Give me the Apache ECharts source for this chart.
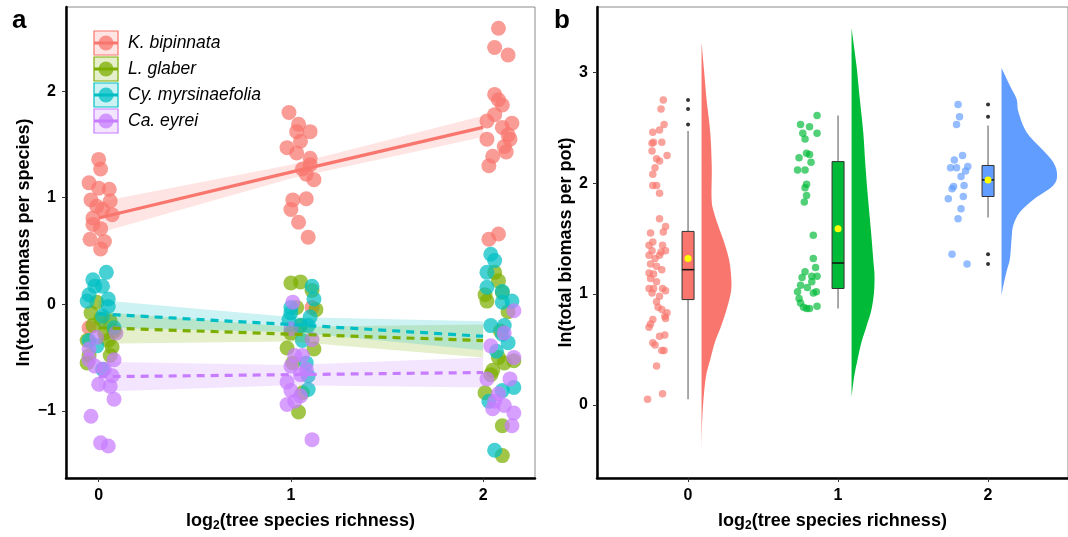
<!DOCTYPE html>
<html>
<head>
<meta charset="utf-8">
<script src="https://cdn.jsdelivr.net/npm/echarts@6/dist/echarts.min.js"></script>
<style>
html, body { margin: 0; padding: 0; background: #fff; }
#main { width: 1068px; height: 537px; }
</style>
</head>
<body>
<div id="main"></div>
<script>
// ---- panel a : biomass per species ----
var species = ['K. bipinnata', 'L. glaber', 'Cy. myrsinaefolia', 'Ca. eyrei'];
var speciesColors = ['#F8766D', '#7CAE00', '#00BFC4', '#C77CFF'];

var kPoints = [
  [0.0, 1.36], [0.01, 1.27], [-0.05, 1.14], [0.0, 1.09], [0.055, 1.08], [-0.04, 0.98], [0.06, 0.97], [-0.01, 0.92],
  [0.02, 0.89], [0.07, 0.84], [-0.03, 0.81], [-0.03, 0.75], [0.01, 0.71], [-0.045, 0.61], [0.03, 0.59], [0.01, 0.52], [-0.05, -0.22],
  [0.99, 1.80], [1.04, 1.69], [1.10, 1.62], [1.03, 1.62], [1.05, 1.53], [0.98, 1.47], [1.03, 1.42], [1.10, 1.37], [1.10, 1.31],
  [1.06, 1.27], [1.08, 1.22], [1.12, 1.17], [1.01, 0.98], [1.08, 0.99], [1.00, 0.89], [1.04, 0.77], [1.09, 0.63], [1.11, -0.03],
  [2.08, 2.59], [2.06, 2.41], [2.13, 2.34], [2.06, 1.97], [2.08, 1.92], [2.10, 1.87], [2.06, 1.78], [2.02, 1.72], [2.15, 1.70],
  [2.10, 1.66], [2.13, 1.59], [2.02, 1.55], [2.14, 1.55], [2.11, 1.48], [2.12, 1.43], [2.05, 1.39], [2.03, 1.30], [2.03, 0.61], [2.08, 0.66]
];
var lPoints = [
  [-0.01, 0.02], [-0.04, -0.08], [0.01, -0.14], [0.06, -0.16], [-0.03, -0.20], [0.03, -0.27], [-0.06, -0.34], [0.05, -0.34],
  [0.07, -0.40], [0.06, -0.48], [-0.05, -0.48], [0.08, -0.25], [-0.06, -0.55],
  [1.00, 0.20], [1.05, 0.21], [1.11, 0.13], [1.03, -0.03], [1.13, -0.05], [1.00, -0.27], [1.12, -0.42], [0.98, -0.41],
  [1.01, -0.55], [1.04, -1.01], [1.06, -0.83], [1.05, -0.20],
  [2.06, 0.30], [2.08, 0.22], [2.01, 0.09], [2.02, 0.03], [2.10, 0.11], [2.13, -0.07], [2.09, -0.25], [2.08, -0.50],
  [2.16, -0.53], [2.11, -0.55], [2.05, -0.62], [2.01, -0.83], [2.10, -1.14], [2.10, -1.42], [2.04, -0.66]
];
var cyPoints = [
  [0.04, 0.30], [-0.03, 0.23], [-0.02, 0.17], [0.02, 0.17], [-0.05, 0.09], [-0.06, 0.03], [0.05, 0.05], [0.05, -0.02],
  [0.02, -0.11], [0.08, -0.22], [-0.05, -0.34], [-0.01, -0.39], [0.02, -0.61],
  [1.11, 0.17], [1.12, 0.05], [1.00, -0.03], [1.00, -0.08], [1.05, -0.20], [1.09, -0.20], [1.06, -0.34], [1.08, -0.55],
  [1.09, -0.67], [1.09, -0.80], [1.10, -0.12], [0.99, -0.14],
  [2.04, 0.47], [2.06, 0.41], [2.02, 0.30], [2.02, 0.16], [2.10, 0.12], [2.10, 0.02], [2.15, 0.03], [2.04, -0.20],
  [2.11, -0.20], [2.10, -0.28], [2.13, -0.36], [2.07, -0.44], [2.16, -0.78], [2.03, -0.91], [2.10, -0.81], [2.06, -1.37]
];
var caPoints = [
  [-0.01, -0.31], [-0.05, -0.42], [0.09, -0.27], [-0.05, -0.52], [-0.02, -0.58], [0.08, -0.52], [0.03, -0.61], [0.07, -0.67],
  [0.06, -0.77], [0.0, -0.75], [0.08, -0.89], [-0.04, -1.05], [0.01, -1.30], [0.05, -1.33],
  [1.01, 0.02], [1.00, -0.23], [1.11, -0.33], [1.02, -0.48], [1.06, -0.48], [1.00, -0.58], [1.08, -0.61], [1.05, -0.66],
  [0.98, -0.73], [1.00, -0.81], [1.05, -0.86], [0.98, -0.94], [1.02, -0.91], [1.11, -1.27],
  [2.16, -0.06], [2.11, -0.27], [2.04, -0.39], [2.16, -0.50], [2.14, -0.70], [2.02, -0.70], [2.08, -0.84], [2.06, -0.91],
  [2.11, -0.95], [2.16, -1.02], [2.15, -1.14], [2.05, -0.98]
];

// fitted lines and confidence bands, read at x = 0, 1, 2
var fitX = [0, 1, 2];
var kFit = [0.81, 1.24, 1.66],    kLow = [0.67, 1.18, 1.57],    kHigh = [0.96, 1.31, 1.77];
var lFit = [-0.22, -0.28, -0.34], lLow = [-0.37, -0.35, -0.50], lHigh = [-0.07, -0.21, -0.19];
var cyFit = [-0.09, -0.19, -0.30], cyLow = [-0.22, -0.26, -0.43], cyHigh = [0.04, -0.12, -0.16];
var caFit = [-0.68, -0.66, -0.64], caLow = [-0.82, -0.76, -0.78], caHigh = [-0.54, -0.57, -0.50];

// ---- panel b : biomass per pot ----
var groupX = [0, 1, 2];
var groupColors = ['#F8766D', '#00BA38', '#619CFF'];

var pot0 = [
  [-0.165, 2.75], [-0.18, 2.67], [-0.16, 2.53], [-0.235, 2.46], [-0.19, 2.48], [-0.24, 2.36], [-0.23, 2.37], [-0.175, 2.37],
  [-0.24, 2.29], [-0.21, 2.22], [-0.14, 2.25], [-0.19, 2.20], [-0.22, 2.14], [-0.235, 2.08], [-0.235, 1.98], [-0.21, 1.98], [-0.19, 1.91],
  [-0.19, 1.68], [-0.15, 1.61], [-0.25, 1.55], [-0.165, 1.56], [-0.235, 1.47], [-0.26, 1.44], [-0.17, 1.44], [-0.24, 1.39],
  [-0.18, 1.38], [-0.15, 1.39], [-0.26, 1.35], [-0.22, 1.32], [-0.19, 1.35], [-0.25, 1.27], [-0.21, 1.25], [-0.175, 1.22],
  [-0.26, 1.19], [-0.23, 1.18], [-0.25, 1.14], [-0.21, 1.11], [-0.26, 1.05], [-0.23, 1.05], [-0.17, 1.05], [-0.15, 1.03],
  [-0.24, 1.01], [-0.19, 0.98], [-0.21, 0.93], [-0.20, 0.88], [-0.175, 0.86], [-0.14, 0.83], [-0.15, 0.78], [-0.155, 0.80],
  [-0.235, 0.77], [-0.25, 0.73], [-0.26, 0.70], [-0.155, 0.63], [-0.19, 0.62], [-0.235, 0.56], [-0.22, 0.54], [-0.175, 0.49],
  [-0.16, 0.49], [-0.21, 0.35], [-0.27, 0.05], [-0.17, 0.10]
];
var pot1 = [
  [0.86, 2.61], [0.75, 2.53], [0.81, 2.51], [0.765, 2.45], [0.86, 2.45], [0.78, 2.40], [0.79, 2.27], [0.81, 2.26],
  [0.74, 2.23], [0.82, 2.19], [0.73, 2.12], [0.78, 2.12], [0.79, 1.99], [0.78, 1.96], [0.79, 1.89], [0.775, 1.83],
  [0.835, 1.53], [0.835, 1.32], [0.85, 1.24], [0.78, 1.20], [0.76, 1.15], [0.825, 1.16], [0.86, 1.16], [0.825, 1.11],
  [0.75, 1.08], [0.795, 1.06], [0.73, 1.02], [0.855, 1.02], [0.835, 1.01], [0.74, 0.96], [0.75, 0.92], [0.86, 0.89],
  [0.77, 0.88], [0.81, 0.87], [0.79, 0.87]
];
var pot2 = [
  [1.80, 2.71], [1.81, 2.60], [1.79, 2.53], [1.83, 2.25], [1.775, 2.21], [1.75, 2.14], [1.79, 2.14], [1.865, 2.15],
  [1.85, 2.11], [1.82, 2.06], [1.84, 1.98], [1.77, 1.97], [1.76, 1.95], [1.735, 1.86], [1.835, 1.88], [1.82, 1.77],
  [1.80, 1.68], [1.76, 1.36], [1.86, 1.27]
];

var boxLow = [0.05, 0.87, 1.69];
var boxQ1 = [0.95, 1.05, 1.88];
var boxMed = [1.22, 1.28, 2.03];
var boxQ3 = [1.565, 2.195, 2.16];
var boxHigh = [2.47, 2.61, 2.52];
var boxMean = [1.32, 1.59, 2.03];
var outliers = [[0, 2.75], [0, 2.67], [0, 2.53], [2, 2.71], [2, 2.60], [2, 1.36], [2, 1.27]];

// half violins: y positions and widths (x units)
var violin0Y = [-0.47, -0.19, 0.05, 0.26, 0.41, 0.57, 0.71, 0.86, 1.02, 1.14, 1.30, 1.45, 1.61, 1.75, 1.86, 2.15, 2.46, 2.76, 3.0, 3.27];
var violin0W = [0, 0.003, 0.013, 0.03, 0.058, 0.09, 0.13, 0.167, 0.196, 0.198, 0.185, 0.155, 0.113, 0.08, 0.067, 0.068, 0.058, 0.033, 0.018, 0];
var violin1Y = [0.07, 0.26, 0.41, 0.57, 0.71, 0.86, 1.02, 1.17, 1.26, 1.56, 1.86, 2.15, 2.46, 2.76, 3.06, 3.40];
var violin1W = [0, 0.018, 0.04, 0.067, 0.1, 0.133, 0.15, 0.153, 0.148, 0.13, 0.11, 0.093, 0.078, 0.055, 0.033, 0];
var violin2Y = [0.97, 1.03, 1.20, 1.32, 1.50, 1.62, 1.74, 1.86, 1.98, 2.08, 2.19, 2.31, 2.46, 2.64, 2.76, 2.88, 3.04];
var violin2W = [0, 0.005, 0.033, 0.056, 0.067, 0.078, 0.123, 0.22, 0.345, 0.37, 0.345, 0.267, 0.167, 0.113, 0.10, 0.056, 0];

var boxWidth = 0.08;
var violinOffset = 0.09;

var FONT = 'Liberation Sans, Arial, sans-serif';

function rgba(hex, a) {
  var n = parseInt(hex.slice(1), 16);
  return 'rgba(' + (n >> 16) + ',' + ((n >> 8) & 255) + ',' + (n & 255) + ',' + a + ')';
}
function minusFmt(v) { return v < 0 ? '\u2212' + Math.abs(v) : String(v); }

function bandSeries(low, high, color) {
  return {
    type: 'custom', xAxisIndex: 0, yAxisIndex: 0, silent: true, z: 3,
    data: [[fitX[0], low[0]]],
    renderItem: function (params, api) {
      var pts = [];
      for (var i = 0; i < fitX.length; i++) pts.push(api.coord([fitX[i], high[i]]));
      for (var j = fitX.length - 1; j >= 0; j--) pts.push(api.coord([fitX[j], low[j]]));
      return { type: 'polygon', shape: { points: pts }, style: { fill: rgba(color, 0.2) } };
    }
  };
}
function fitSeries(fit, color, dashed) {
  return {
    type: 'line', xAxisIndex: 0, yAxisIndex: 0, silent: true, z: 4,
    data: fitX.map(function (x, i) { return [x, fit[i]]; }),
    symbol: 'none',
    lineStyle: { color: color, width: 3.2, type: dashed ? [8, 6] : 'solid' }
  };
}

var speciesPoints = [kPoints, lPoints, cyPoints, caPoints];
var fits = [[kFit, kLow, kHigh], [lFit, lLow, lHigh], [cyFit, cyLow, cyHigh], [caFit, caLow, caHigh]];
var violins = [[violin0Y, violin0W], [violin1Y, violin1W], [violin2Y, violin2W]];
var pots = [pot0, pot1, pot2];

var series = [];
speciesPoints.forEach(function (pts, i) {
  series.push({
    name: species[i], type: 'scatter', xAxisIndex: 0, yAxisIndex: 0, z: 2,
    data: pts, symbolSize: 15,
    itemStyle: { color: speciesColors[i], opacity: 0.72 }
  });
});
fits.forEach(function (f, i) { series.push(bandSeries(f[1], f[2], speciesColors[i])); });
fits.forEach(function (f, i) { series.push(fitSeries(f[0], speciesColors[i], i > 0)); });

pots.forEach(function (pts, i) {
  series.push({
    type: 'scatter', xAxisIndex: 1, yAxisIndex: 1, z: 2,
    data: pts, symbolSize: 7.5,
    itemStyle: { color: groupColors[i], opacity: 0.68 }
  });
});

// half violins
series.push({
  type: 'custom', xAxisIndex: 1, yAxisIndex: 1, silent: true, z: 2,
  data: groupX.map(function (x, i) { return [x, i]; }),
  renderItem: function (params, api) {
    var i = params.dataIndex;
    var x0 = groupX[i] + violinOffset;
    var vy = violins[i][0], vw = violins[i][1];
    var p = vy.map(function (y, k) { return api.coord([x0 + vw[k], y]); });
    var d = 'M' + p[0][0] + ',' + p[0][1];
    for (var k = 0; k < p.length - 1; k++) {
      var a = p[Math.max(k - 1, 0)], b = p[k], c = p[k + 1], e = p[Math.min(k + 2, p.length - 1)];
      var c1 = [b[0] + (c[0] - a[0]) / 6, b[1] + (c[1] - a[1]) / 6];
      var c2 = [c[0] - (e[0] - b[0]) / 6, c[1] - (e[1] - b[1]) / 6];
      d += ' C' + c1[0] + ',' + c1[1] + ' ' + c2[0] + ',' + c2[1] + ' ' + c[0] + ',' + c[1];
    }
    d += ' Z';
    return { type: 'path', shape: { pathData: d }, style: { fill: groupColors[i] } };
  }
});

// boxplots
series.push({
  type: 'custom', xAxisIndex: 1, yAxisIndex: 1, silent: true, z: 3,
  data: groupX.map(function (x, i) { return [x, boxMed[i]]; }),
  renderItem: function (params, api) {
    var i = params.dataIndex, x = groupX[i], hw = boxWidth / 2;
    var lo = api.coord([x, boxLow[i]]), hi = api.coord([x, boxHigh[i]]);
    var bl = api.coord([x - hw, boxQ1[i]]), tr = api.coord([x + hw, boxQ3[i]]);
    var ml = api.coord([x - hw, boxMed[i]]), mr = api.coord([x + hw, boxMed[i]]);
    var mn = api.coord([x, boxMean[i]]);
    return {
      type: 'group', children: [
        { type: 'line', shape: { x1: lo[0], y1: lo[1], x2: hi[0], y2: hi[1] }, style: { stroke: '#8c8c8c', lineWidth: 1.5 } },
        { type: 'rect', shape: { x: bl[0], y: tr[1], width: tr[0] - bl[0], height: bl[1] - tr[1] }, style: { fill: groupColors[i], stroke: '#333', lineWidth: 1 } },
        { type: 'line', shape: { x1: ml[0], y1: ml[1], x2: mr[0], y2: mr[1] }, style: { stroke: '#111', lineWidth: 1.5 } },
        { type: 'circle', shape: { cx: mn[0], cy: mn[1], r: 3.5 }, style: { fill: '#FFFF00' } }
      ]
    };
  }
});
series.push({
  type: 'scatter', xAxisIndex: 1, yAxisIndex: 1, z: 4,
  data: outliers, symbolSize: 4,
  itemStyle: { color: '#000' }
});

function valueAxis(ticks, margin, opt) {
  return Object.assign({
    type: 'value',
    splitLine: { show: false },
    axisLine: { show: true, onZero: false, lineStyle: { color: '#000', width: 2.5 } },
    axisTick: { show: true, length: 4, lineStyle: { color: '#333', width: 1 }, customValues: ticks },
    axisLabel: { color: '#000', fontSize: 16, fontWeight: 'bold', fontFamily: FONT, margin: margin, formatter: minusFmt, customValues: ticks },
    nameLocation: 'middle',
    nameTextStyle: { color: '#000', fontSize: 18, fontWeight: 'bold', fontFamily: FONT }
  }, opt);
}
var xName = 'log{s|2}(tree species richness)';
var xNameStyle = {
  color: '#000', fontSize: 18, fontWeight: 'bold', fontFamily: FONT,
  rich: { s: { fontSize: 12, fontWeight: 'bold', fontFamily: FONT, color: '#000', padding: [10, 0, 0, 0] } }
};

var legendItems = species.map(function (name, i) {
  var c = speciesColors[i];
  return {
    type: 'group', x: 94, y: 31 + i * 26,
    children: [
      { type: 'rect', shape: { x: 0, y: 0, width: 24, height: 24 }, style: { fill: rgba(c, 0.2), stroke: c, lineWidth: 1.2 } },
      { type: 'line', shape: { x1: 0, y1: 12, x2: 24, y2: 12 }, style: { stroke: c, lineWidth: 3 } },
      { type: 'circle', shape: { cx: 12, cy: 12, r: 7.5 }, style: { fill: rgba(c, 0.75) } },
      { type: 'text', x: 34, y: 12, style: { text: name, fill: '#000', fontSize: 17.5, fontStyle: 'italic', fontFamily: FONT, verticalAlign: 'middle' } }
    ]
  };
});

var chart = echarts.init(document.getElementById('main'));
chart.setOption({
  animation: false,
  backgroundColor: '#fff',
  grid: [
    { left: 66, top: 7, width: 469, height: 472, show: true, borderColor: '#8c8c8c', borderWidth: 1 },
    { left: 597, top: 7, width: 473, height: 472, show: true, borderColor: '#8c8c8c', borderWidth: 1 }
  ],
  xAxis: [
    valueAxis([0, 1, 2], 10, { gridIndex: 0, min: -0.17, max: 2.27, name: xName, nameGap: 32, nameTextStyle: xNameStyle }),
    valueAxis([0, 1, 2], 10, { gridIndex: 1, min: -0.607, max: 2.533, name: xName, nameGap: 32, nameTextStyle: xNameStyle })
  ],
  yAxis: [
    valueAxis([-1, 0, 1, 2], 10, { gridIndex: 0, min: -1.63, max: 2.79, name: 'ln(total biomass per species)', nameGap: 33 }),
    valueAxis([0, 1, 2, 3], 9, { gridIndex: 1, min: -0.66, max: 3.59, name: 'ln(total biomass per pot)', nameGap: 20 })
  ],
  graphic: legendItems.concat([
    { type: 'text', x: 12, y: 8, style: { text: 'a', fill: '#000', fontSize: 26, fontWeight: 'bold', fontFamily: FONT } },
    { type: 'text', x: 554, y: 8, style: { text: 'b', fill: '#000', fontSize: 26, fontWeight: 'bold', fontFamily: FONT } }
  ]),
  series: series
});
</script>
</body>
</html>
